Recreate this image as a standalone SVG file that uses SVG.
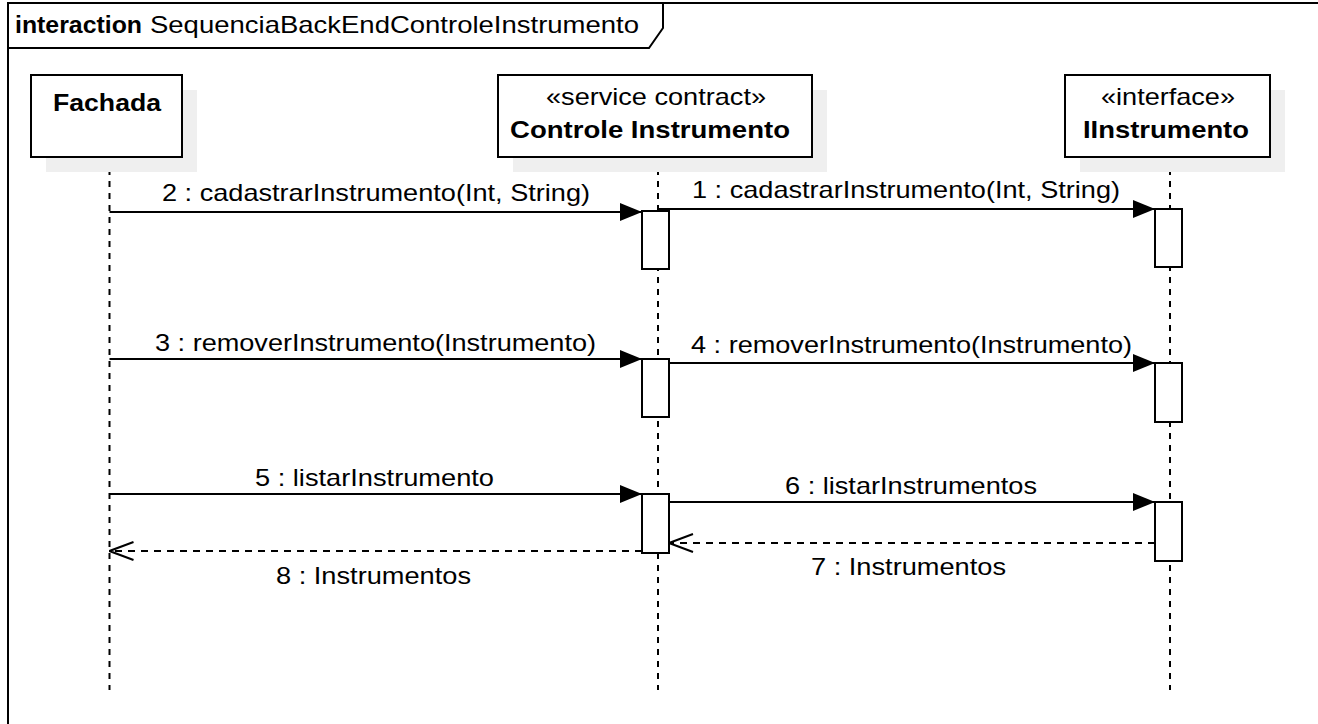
<svg xmlns="http://www.w3.org/2000/svg" width="1318" height="724" viewBox="0 0 1318 724">
<defs>
<style>
text{font-family:"Liberation Sans",Arial,sans-serif;font-size:24px;fill:#000}
.b{font-weight:bold}
.box{fill:#fff;stroke:#000;stroke-width:2}
.sh{fill:#efefef;stroke:none}
.life{stroke:#000;stroke-width:2;stroke-dasharray:6 6;fill:none}
.msg{stroke:#000;stroke-width:2;fill:none}
.ret{stroke:#000;stroke-width:2;stroke-dasharray:7 6;fill:none}
.act{fill:#fff;stroke:#000;stroke-width:2}
</style>
<marker id="filled" markerWidth="22" markerHeight="20" refX="22" refY="10" orient="auto" markerUnits="userSpaceOnUse">
<path d="M0,1 L22,10 L0,19 Z" fill="#000"/>
</marker>
<marker id="open" markerWidth="26" markerHeight="22" refX="25" refY="11" orient="auto" markerUnits="userSpaceOnUse">
<path d="M1,2 L25,11 L1,20" fill="none" stroke="#000" stroke-width="2"/>
</marker>
</defs>
<rect width="1318" height="724" fill="#fff"/>
<g id="frame">
<rect x="8" y="3" width="1320" height="730" fill="none" stroke="#000" stroke-width="2"/>
<path d="M8,48 H649 L663,28 V3" fill="none" stroke="#000" stroke-width="2"/>
<text x="15" y="33" class="b" textLength="127" lengthAdjust="spacingAndGlyphs">interaction</text>
<text x="150" y="33" textLength="489" lengthAdjust="spacingAndGlyphs">SequenciaBackEndControleInstrumento</text>
</g>
<g id="lifelines">
<line class="life" x1="109.5" y1="157" x2="109.5" y2="690"/>
<line class="life" x1="658" y1="157" x2="658" y2="690"/>
<line class="life" x1="1170" y1="157" x2="1170" y2="690"/>
</g>
<g id="node-fachada">
<rect class="sh" x="46" y="90" width="151" height="82"/>
<rect class="box" x="31" y="75" width="151" height="82"/>
<text x="53" y="111" class="b" textLength="108" lengthAdjust="spacingAndGlyphs">Fachada</text>
</g>
<g id="node-controle">
<rect class="sh" x="513" y="90" width="314" height="82"/>
<rect class="box" x="498" y="75" width="314" height="82"/>
<text x="546" y="105" textLength="220" lengthAdjust="spacingAndGlyphs">«service contract»</text>
<text x="510" y="138" class="b" textLength="280" lengthAdjust="spacingAndGlyphs">Controle Instrumento</text>
</g>
<g id="node-iinstrumento">
<rect class="sh" x="1080" y="90" width="205" height="82"/>
<rect class="box" x="1065" y="75" width="205" height="82"/>
<text x="1101" y="105" textLength="134" lengthAdjust="spacingAndGlyphs">«interface»</text>
<text x="1083" y="138" class="b" textLength="166" lengthAdjust="spacingAndGlyphs">IInstrumento</text>
</g>
<g id="connectors">
<line class="msg" x1="109.5" y1="212" x2="642" y2="212" marker-end="url(#filled)"/>
<line class="msg" x1="657" y1="209" x2="1155" y2="209" marker-end="url(#filled)"/>
<line class="msg" x1="109.5" y1="359" x2="642" y2="359" marker-end="url(#filled)"/>
<line class="msg" x1="658" y1="363" x2="1155" y2="363" marker-end="url(#filled)"/>
<line class="msg" x1="109.5" y1="494" x2="642" y2="494" marker-end="url(#filled)"/>
<line class="msg" x1="658" y1="502" x2="1155" y2="502" marker-end="url(#filled)"/>
<line class="ret" x1="1155" y1="543" x2="669" y2="543" marker-end="url(#open)"/>
<line class="ret" x1="642" y1="551" x2="109.5" y2="551" marker-end="url(#open)"/>
<text x="162" y="201" textLength="428" lengthAdjust="spacingAndGlyphs">2 : cadastrarInstrumento(Int, String)</text>
<text x="692" y="198" textLength="428" lengthAdjust="spacingAndGlyphs">1 : cadastrarInstrumento(Int, String)</text>
<text x="155" y="351" textLength="441" lengthAdjust="spacingAndGlyphs">3 : removerInstrumento(Instrumento)</text>
<text x="691" y="353" textLength="441" lengthAdjust="spacingAndGlyphs">4 : removerInstrumento(Instrumento)</text>
<text x="255" y="486" textLength="239" lengthAdjust="spacingAndGlyphs">5 : listarInstrumento</text>
<text x="785" y="494" textLength="252" lengthAdjust="spacingAndGlyphs">6 : listarInstrumentos</text>
<text x="811" y="575" textLength="195" lengthAdjust="spacingAndGlyphs">7 : Instrumentos</text>
<text x="276" y="584" textLength="195" lengthAdjust="spacingAndGlyphs">8 : Instrumentos</text>
</g>
<g id="activations">
<rect class="act" x="642" y="211" width="27" height="58"/>
<rect class="act" x="642" y="359" width="27" height="58"/>
<rect class="act" x="642" y="494" width="27" height="59"/>
<rect class="act" x="1155" y="209" width="27" height="58"/>
<rect class="act" x="1155" y="363" width="27" height="59"/>
<rect class="act" x="1155" y="502" width="27" height="59"/>
</g>
</svg>
